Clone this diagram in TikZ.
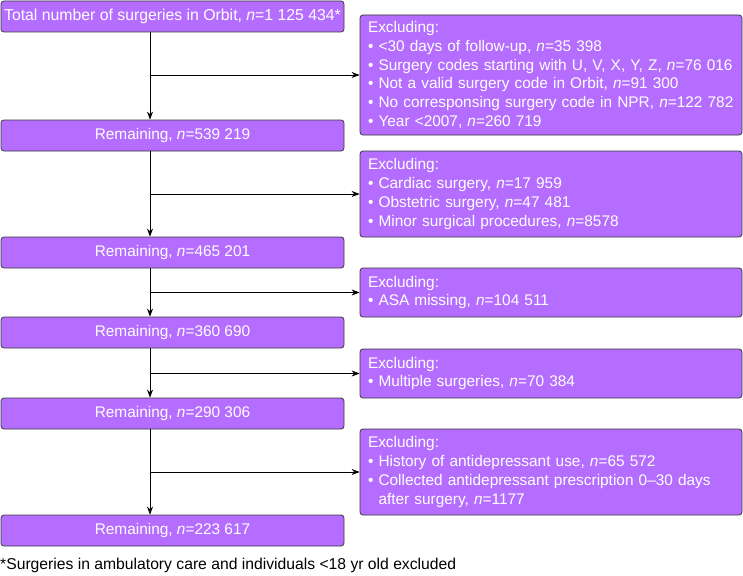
\documentclass[tikz,border=0pt]{standalone}
\usepackage{fontspec}
\setmainfont{Liberation Sans}
\usepackage{tikz}
\usetikzlibrary{arrows.meta,positioning}
\definecolor{boxpurple}{HTML}{B56DFF}
\definecolor{boxedge}{HTML}{3A3A3A}
\newcommand{\nis}{\textit{n}=}

\begin{document}
\begin{tikzpicture}[x=1pt, y=-1pt,
    font=\fontsize{15.4}{18.8}\selectfont,
    flowbox/.style={draw=boxedge, fill=boxpurple, text=white, rounded corners=3pt, line width=0.8pt},
    remainbox/.style={flowbox, minimum width=343pt, minimum height=31pt, inner sep=0pt},
    exclbox/.style={flowbox, inner xsep=8pt, inner ysep=0pt, text width=366pt, align=left},
    flowarrow/.style={-{Stealth[length=8pt,width=6pt]}, line width=0.7pt}]
    \useasboundingbox (0,0) rectangle (743,575);
    % main column
    \node[remainbox, font=\fontsize{15.8}{18.8}\selectfont] (total) at (172.5,16.5) {Total number of surgeries in Orbit, \nis1 125 434*};
    \node[remainbox] (rem1) at (172.5,135.5) {Remaining, \nis539 219};
    \node[remainbox] (rem2) at (172.5,252.5) {Remaining, \nis465 201};
    \node[remainbox] (rem3) at (172.5,332.5) {Remaining, \nis360 690};
    \node[remainbox] (rem4) at (172.5,413.5) {Remaining, \nis290 306};
    \node[remainbox] (rem5) at (172.5,530.5) {Remaining, \nis223 617};
    % exclusions
    \node[exclbox, minimum height=120pt] (excl1) at (551,75) {Excluding:\\
        • <30 days of follow-up, \nis35 398\\
        • Surgery codes starting with U, V, X, Y, Z, \nis76 016\\
        • Not a valid surgery code in Orbit, \nis91 300\\
        • No corresponsing surgery code in NPR, \nis122 782\\
        • Year <2007, \nis260 719};
    \node[exclbox, minimum height=86pt] (excl2) at (551,194) {Excluding:\\
        • Cardiac surgery, \nis17 959\\
        • Obstetric surgery, \nis47 481\\
        • Minor surgical procedures, \nis8578};
    \node[exclbox, minimum height=49pt] (excl3) at (551,292.5) {Excluding:\\
        • ASA missing, \nis104 511};
    \node[exclbox, minimum height=49pt] (excl4) at (551,373.5) {Excluding:\\
        • Multiple surgeries, \nis70 384};
    \node[exclbox, minimum height=86pt] (excl5) at (551,472) {Excluding:\\
        • History of antidepressant use, \nis65 572\\
        • Collected antidepressant prescription 0–30 days\\
        \phantom{• }after surgery, \nis1177};
    % connectors
    \coordinate (trunk) at (150,0);
    \foreach \from/\to/\excl in {total/rem1/excl1, rem1/rem2/excl2, rem2/rem3/excl3, rem3/rem4/excl4, rem4/rem5/excl5}{
        \draw[flowarrow] (\from.south -| trunk) -- (\to.north -| trunk);
        \draw[flowarrow] (\excl.west -| trunk) -- (\excl.west);
    }
    \node[anchor=west, inner sep=0pt, font=\fontsize{15.7}{18.8}\selectfont] (note) at (0,565) {*Surgeries in ambulatory care and individuals <18 yr old excluded};
\end{tikzpicture}
\end{document}
